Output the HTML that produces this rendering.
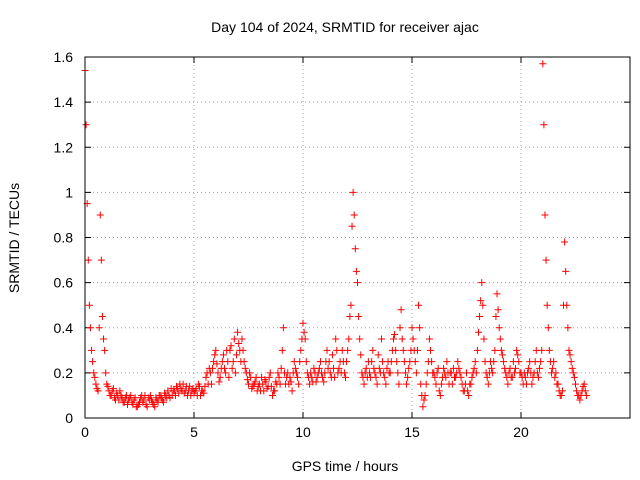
<!DOCTYPE html>
<html><head><meta charset="utf-8"><style>
body{margin:0;background:#fff}
svg{display:block;font-family:"Liberation Sans",sans-serif;font-size:14px}
</style></head><body>
<svg id="chart" width="640" height="480">
<text x="345" y="32" text-anchor="middle">Day 104 of 2024, SRMTID for receiver ajac</text>
<text x="345" y="471" text-anchor="middle">GPS time / hours</text>
<text transform="translate(19,238) rotate(-90)" text-anchor="middle">SRMTID / TECUs</text>
<g id="grid"></g>
<g id="ticks"></g>
<g id="points"></g>
<rect x="85" y="57" width="545" height="361" fill="none" stroke="#000"/>
</svg>
<script>
const xTicks=[0,5,10,15,20];
const yTicks=[0,0.2,0.4,0.6,0.8,1,1.2,1.4,1.6];
const yTickLabels=["0","0.2","0.4","0.6","0.8","1","1.2","1.4","1.6"];
const tStart=0, tStep=0.1, tStart2=0.05;
const values=[
1.54,0.95,0.5,0.3,0.2,0.15,0.12,0.9,0.45,0.3,
0.15,0.12,0.1,0.13,0.08,0.1,0.12,0.09,0.07,0.1,
0.08,0.1,0.06,0.09,0.05,0.07,0.1,0.08,0.06,0.09,
0.1,0.07,0.05,0.08,0.1,0.09,0.07,0.1,0.12,0.09,
0.1,0.12,0.14,0.11,0.13,0.15,0.12,0.1,0.14,0.12,
0.11,0.13,0.15,0.1,0.12,0.14,0.2,0.22,0.15,0.25,
0.3,0.2,0.18,0.25,0.22,0.3,0.18,0.32,0.25,0.2,
0.38,0.3,0.35,0.25,0.2,0.15,0.18,0.14,0.16,0.12,
0.15,0.18,0.12,0.16,0.14,0.2,0.1,0.12,0.15,0.18,
0.22,0.4,0.15,0.2,0.18,0.12,0.25,0.2,0.15,0.3,
0.42,0.35,0.2,0.15,0.18,0.22,0.16,0.2,0.25,0.18,
0.2,0.3,0.25,0.18,0.22,0.35,0.2,0.25,0.3,0.2,
0.25,0.35,0.5,1.0,0.75,0.6,0.35,0.2,0.15,0.22,
0.25,0.18,0.3,0.2,0.15,0.22,0.35,0.2,0.15,0.25,
0.2,0.3,0.37,0.25,0.15,0.48,0.3,0.2,0.18,0.25,
0.4,0.3,0.2,0.5,0.15,0.05,0.1,0.2,0.35,0.25,
0.2,0.15,0.22,0.1,0.18,0.2,0.25,0.15,0.2,0.22,
0.18,0.25,0.2,0.15,0.12,0.2,0.1,0.15,0.2,0.25,
0.3,0.45,0.6,0.35,0.2,0.15,0.25,0.2,0.3,0.55,
0.4,0.3,0.25,0.2,0.15,0.22,0.18,0.2,0.3,0.25,
0.2,0.15,0.18,0.2,0.25,0.15,0.2,0.3,0.18,0.25,
1.57,0.9,0.5,0.3,0.2,0.25,0.2,0.15,0.1,0.12,
0.78,0.5,0.3,0.25,0.2,0.15,0.1,0.08,0.12,0.15,
0.1];
const values2=[
1.3,0.7,0.4,0.25,0.18,0.13,0.4,0.7,0.35,0.2,
0.14,0.1,0.12,0.09,0.11,0.08,0.1,0.07,0.09,0.06,
0.09,0.07,0.08,0.05,0.06,0.09,0.07,0.1,0.05,0.08,
0.08,0.06,0.09,0.07,0.1,0.08,0.11,0.09,0.1,0.13,
0.12,0.1,0.13,0.15,0.12,0.11,0.14,0.12,0.1,0.13,
0.12,0.1,0.14,0.12,0.11,0.18,0.15,0.2,0.22,0.28,
0.24,0.16,0.22,0.28,0.2,0.25,0.3,0.22,0.35,0.28,
0.33,0.25,0.3,0.22,0.17,0.2,0.13,0.15,0.18,0.14,
0.12,0.15,0.17,0.13,0.18,0.14,0.12,0.16,0.2,0.15,
0.3,0.2,0.18,0.15,0.16,0.2,0.22,0.18,0.25,0.35,
0.38,0.25,0.18,0.2,0.16,0.2,0.18,0.22,0.2,0.16,
0.25,0.22,0.2,0.28,0.18,0.3,0.22,0.2,0.25,0.18,
0.3,0.45,0.85,0.9,0.65,0.45,0.28,0.18,0.2,0.18,
0.2,0.25,0.22,0.18,0.28,0.2,0.25,0.18,0.22,0.2,
0.25,0.35,0.3,0.2,0.4,0.35,0.25,0.15,0.22,0.3,
0.35,0.25,0.3,0.4,0.1,0.08,0.15,0.25,0.3,0.2,
0.18,0.2,0.12,0.15,0.22,0.18,0.2,0.2,0.15,0.18,
0.2,0.22,0.18,0.12,0.15,0.12,0.15,0.18,0.22,0.2,
0.38,0.52,0.5,0.25,0.18,0.2,0.22,0.25,0.45,0.48,
0.35,0.28,0.22,0.18,0.2,0.18,0.25,0.22,0.28,0.2,
0.18,0.2,0.15,0.22,0.2,0.18,0.25,0.2,0.22,0.3,
1.3,0.7,0.4,0.25,0.22,0.18,0.15,0.12,0.1,0.5,
0.65,0.4,0.28,0.22,0.18,0.12,0.1,0.1,0.14,0.12];
const X0=85,X1=630,Y0=418,Y1=57,XMAX=25,YMAX=1.6;
const xs=v=>X0+v/XMAX*(X1-X0);
const ys=v=>Y0-v/YMAX*(Y0-Y1);
const NS="http://www.w3.org/2000/svg";
const grid=document.getElementById('grid'),ticks=document.getElementById('ticks'),pts=document.getElementById('points');
function mk(tag,attrs,parent){const e=document.createElementNS(NS,tag);for(const k in attrs)e.setAttribute(k,attrs[k]);parent.appendChild(e);return e;}
xTicks.forEach(v=>{
  const x=xs(v);
  if(v>0){const g=mk('line',{x1:x,x2:x,y1:Y1,y2:Y0,stroke:'#a0a0a0','stroke-dasharray':'1,3'},grid);
  
  }
  mk('line',{x1:x,x2:x,y1:Y0,y2:Y0-6,stroke:'#000'},ticks);
  mk('line',{x1:x,x2:x,y1:Y1,y2:Y1+6,stroke:'#000'},ticks);
  const t=mk('text',{x:x,y:Y0+19,'text-anchor':'middle'},ticks);t.textContent=v;
  
  
});
yTicks.forEach((v,i)=>{
  const y=ys(v);
  if(v>0&&v<YMAX){const g=mk('line',{x1:X0,x2:X1,y1:y,y2:y,stroke:'#a0a0a0','stroke-dasharray':'1,3'},grid);
  
  }
  mk('line',{x1:X0,x2:X0+6,y1:y,y2:y,stroke:'#000'},ticks);
  mk('line',{x1:X1,x2:X1-6,y1:y,y2:y,stroke:'#000'},ticks);
  const t=mk('text',{x:X0-12,y:y+5,'text-anchor':'end'},ticks);t.textContent=yTickLabels[i];
  
  
});
function drawSeries(arr,start,color,name){
  arr.forEach((v,i)=>{
    const x=xs(start+i*tStep),y=ys(v);
    const p=mk('path',{d:`M${x-3.5},${y}h7M${x},${y-3.5}v7`,stroke:color,'stroke-width':1},pts);
    
    
  });
}
drawSeries(values2,tStart2,'#ff0000','data-point-b');
drawSeries(values,tStart,'#ff0000','data-point');
</script>
</body></html>
